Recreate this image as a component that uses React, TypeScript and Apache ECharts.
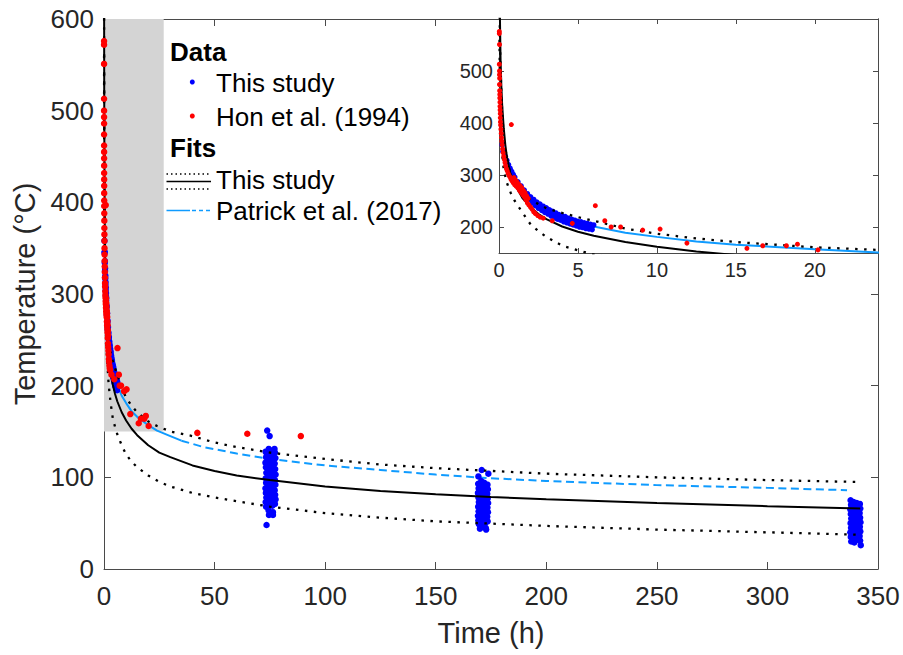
import React, { useEffect, useRef } from "react";
import * as echarts from "echarts";

// ---------- DATA ----------
// "This study" data: early continuous record (t < 6 h)
const thisStudyEarly: number[][] = [
  [0.2, 358], [0.3, 346], [0.4, 336], [0.5, 328], [0.6, 320], [0.7, 313], [0.8, 307], [0.9, 301], [1.0, 296],
  [1.2, 287], [1.4, 279], [1.6, 271], [1.8, 264], [2.0, 258], [2.2, 253], [2.4, 248], [2.6, 244], [2.8, 240],
  [3.0, 237], [3.2, 233], [3.4, 230], [3.6, 227], [3.8, 224], [4.0, 222], [4.2, 220], [4.4, 217], [4.6, 215],
  [4.8, 213], [5.0, 211], [5.2, 210], [5.4, 208], [5.6, 207], [5.8, 205], [6.0, 204],
  [1.9, 256], [2.1, 251], [2.3, 246], [2.5, 242], [2.7, 238], [2.9, 235], [3.1, 231], [3.3, 228], [3.5, 225],
  [3.7, 222], [3.9, 220], [4.1, 217], [4.3, 215], [4.5, 213], [4.7, 211], [4.9, 209], [5.1, 207], [5.3, 206],
  [5.5, 204], [5.7, 203], [5.9, 201],
  [0.25, 345], [0.35, 334], [0.45, 325], [0.55, 317], [0.65, 310], [0.75, 304], [0.85, 298], [0.95, 293],
  [1.1, 285], [1.3, 277], [1.5, 269], [1.7, 261], [1.9, 253], [2.1, 246], [2.3, 241], [2.5, 236], [2.7, 232],
  [2.9, 228], [3.1, 225], [3.3, 221], [3.5, 218], [3.7, 215], [3.9, 213], [4.1, 210], [4.3, 208], [4.5, 206],
  [4.7, 204], [4.9, 202], [5.1, 200], [5.3, 199], [5.5, 197], [5.7, 196], [5.9, 195],
];

// "This study" data: cluster near 75 h
const thisStudy75: number[][] = [
  [73.1, 128], [73.3, 122], [73.0, 116], [73.2, 111], [73.4, 105], [73.1, 99], [73.3, 94], [73.0, 88], [73.2, 83],
  [73.4, 78], [73.1, 73], [73.3, 68],
  [74.5, 131], [74.7, 125], [74.4, 119], [74.6, 113], [74.8, 108], [74.5, 102], [74.7, 96], [74.4, 91], [74.6, 85],
  [74.8, 80], [74.5, 75], [74.7, 70], [74.4, 64],
  [75.9, 129], [76.1, 123], [75.8, 118], [76.0, 112], [76.2, 106], [75.9, 100], [76.1, 95], [75.8, 89], [76.0, 84],
  [76.2, 79], [75.9, 74], [76.1, 69], [76.4, 62],
  [77.3, 127], [77.5, 121], [77.2, 115], [77.4, 109], [77.6, 103], [77.3, 97], [77.5, 92], [77.2, 86], [77.4, 81],
  [77.6, 76], [77.3, 71],
  [73.8, 151], [74.9, 145], [73.5, 48], [74.6, 59], [76.4, 59], [77.1, 131], [73.6, 126],
];

// "This study" data: cluster near 171 h
const thisStudy171: number[][] = [
  [169.2, 93], [169.4, 88], [169.1, 83], [169.3, 78], [169.5, 73], [169.2, 68], [169.4, 63], [169.1, 58], [169.3, 53], [169.5, 49],
  [170.6, 96], [170.8, 91], [170.5, 86], [170.7, 81], [170.9, 76], [170.6, 71], [170.8, 66], [170.5, 61], [170.7, 56], [170.9, 51], [170.6, 46],
  [172.0, 94], [172.2, 89], [171.9, 84], [172.1, 79], [172.3, 74], [172.0, 69], [172.2, 64], [171.9, 59], [172.1, 54], [172.3, 50], [172.6, 45],
  [173.4, 92], [173.6, 87], [173.3, 82], [173.5, 77], [173.7, 72], [173.4, 67], [173.6, 62], [173.3, 57], [173.5, 52],
  [170.8, 108], [169.3, 101], [173.8, 104], [170.0, 44], [172.8, 43],
];

// "This study" data: cluster near 340 h
const thisStudy340: number[][] = [
  [337.6, 75], [337.8, 70], [337.5, 65], [337.7, 60], [337.9, 55], [337.6, 50], [337.8, 45], [337.5, 40], [337.7, 35], [337.9, 30],
  [339.0, 73], [339.2, 68], [338.9, 63], [339.1, 58], [339.3, 53], [339.0, 48], [339.2, 43], [338.9, 38], [339.1, 33], [339.3, 29],
  [340.4, 72], [340.6, 67], [340.3, 62], [340.5, 57], [340.7, 52], [340.4, 47], [340.6, 42], [340.3, 37], [340.5, 32],
  [341.8, 71], [342.0, 66], [341.7, 61], [341.9, 56], [342.1, 51], [341.8, 46], [342.0, 41], [341.7, 36], [341.9, 31], [342.2, 26],
];

// Hon et al. (1994)
const honData: number[][] = [
  [0.02, 576], [0.02, 572], [0.03, 551], [0.02, 513], [0.03, 500], [0.03, 493], [0.04, 486], [0.03, 474],
  [0.04, 462], [0.05, 455], [0.05, 448], [0.06, 440], [0.06, 432], [0.07, 425], [0.08, 418], [0.08, 410],
  [0.09, 402], [0.1, 396], [0.12, 388], [0.14, 380], [0.16, 372], [0.18, 365], [0.2, 358], [0.23, 350],
  [0.26, 343], [0.3, 336], [0.34, 330], [0.38, 324], [0.42, 318], [0.47, 312], [0.52, 308], [0.58, 303],
  [0.64, 299], [0.7, 296], [0.78, 397], [0.76, 292], [0.82, 289], [0.9, 285], [0.95, 295], [1.0, 281],
  [1.05, 290], [1.1, 278], [1.15, 286], [1.2, 275], [1.25, 282], [1.3, 270], [1.35, 279], [1.4, 266],
  [1.45, 275], [1.5, 262], [1.55, 270], [1.6, 258], [1.65, 266], [1.7, 252], [1.75, 260], [1.8, 246],
  [1.85, 255], [1.9, 242], [2.0, 238], [2.1, 234], [2.2, 229], [2.3, 226], [2.45, 222], [2.6, 219],
  [2.8, 217], [3.37, 212], [4.64, 207], [6.1, 241], [6.7, 212], [7.1, 200], [7.7, 200], [9.1, 194],
  [10.2, 196], [11.9, 169], [15.7, 159], [16.7, 164], [18.2, 164], [18.9, 167], [20.2, 156],
  [42.2, 148.5], [64.8, 147.5], [89, 145],
];

// Fits: this study (best fit, upper and lower bounds)
const fitThisStudy: number[][] = [
  [0.03, 690], [0.06, 600], [0.1, 520], [0.15, 470], [0.2, 435], [0.3, 390], [0.4, 358], [0.5, 335], [0.7, 305],
  [1, 282], [1.5, 255], [2, 238], [2.5, 225], [3, 215], [4, 201], [5, 191], [6, 183], [8, 171], [10, 162],
  [12.5, 153], [15, 146], [20, 135], [25, 127], [30, 122], [40, 113], [50, 107], [60, 102], [75, 97], [100, 90],
  [125, 85], [150, 81.5], [175, 78.5], [200, 76], [250, 72], [300, 68.5], [342, 66],
];
const fitUpper: number[][] = [
  [0.03, 640], [0.06, 560], [0.1, 500], [0.2, 420], [0.3, 375], [0.5, 330], [0.7, 305], [1, 285], [1.5, 265],
  [2, 252], [3, 236], [4, 227], [5, 219], [6, 212], [8, 197], [10, 187], [12.5, 178], [15, 171], [20, 161],
  [24, 156], [30, 150], [40, 145], [50, 138], [60, 133], [75, 127], [100, 120], [125, 114], [150, 110],
  [175, 107], [200, 104], [250, 100], [300, 97], [340, 95],
];
const fitLower: number[][] = [
  [0.03, 560], [0.06, 470], [0.1, 410], [0.2, 340], [0.3, 310], [0.5, 285], [0.75, 265], [1, 250], [1.5, 227],
  [2, 205], [2.5, 192], [3, 181], [4, 164], [5, 155], [6, 147], [8, 135], [10, 125], [12.5, 117], [15, 111],
  [20, 102], [25, 95], [30, 90], [40, 83], [50, 78], [60, 74], [75, 68], [100, 61], [125, 56], [150, 52],
  [175, 49.5], [200, 47], [250, 43], [300, 40], [340, 37.5],
];
// Patrick et al. (2017): fitted range (solid) and extrapolation (dashed)
const patrickSolid: number[][] = [
  [0.3, 350], [0.5, 320], [0.75, 298], [1, 283], [1.5, 263], [2, 250], [3, 232], [4, 219], [5, 209], [6, 201],
  [8, 189], [10, 181], [12.5, 172], [15, 166], [20, 157], [24, 151], [30, 145], [35, 140],
];
const patrickDashed: number[][] = [
  [35, 140], [45, 133], [60, 126], [75, 120], [100, 113], [125, 108], [150, 103], [175, 99], [200, 96],
  [250, 91.5], [300, 88.5], [336, 86],
];

// Shaded (inset) region
const shadeTime = [0, 27];
const shadeTemp = [150, 600];

// Tick values
const insetXTicks = [0, 5, 10, 15, 20];
const insetYTicks = [200, 300, 400, 500];

// ---------- STYLE ----------
const FONT = "Liberation Sans, Arial, Helvetica, sans-serif";
const AXIS_COLOR = "#4a4a4a";
const TEXT_COLOR = "#262626";
const BLUE = "#0000ff";
const RED = "#ff0000";
const PATRICK = "#0f9bff";
const DOT: number[] = [2.5, 6.5];
const DASH: number[] = [8, 4.5];

function axisBase(extra: any) {
  return {
    type: "value",
    axisLine: { show: true, onZero: false, lineStyle: { color: AXIS_COLOR, width: 1 } },
    splitLine: { show: false },
    ...extra,
  };
}

function fitSeries(xi: number, yi: number) {
  const common = {
    type: "line",
    xAxisIndex: xi,
    yAxisIndex: yi,
    showSymbol: false,
    symbol: "none",
    silent: true,
    clip: true,
    z: 3,
  };
  return [
    { ...common, z: 1, data: patrickSolid, lineStyle: { color: PATRICK, width: 2 } },
    { ...common, z: 1, data: patrickDashed, lineStyle: { color: PATRICK, width: 2, type: DASH } },
    { ...common, data: fitLower, lineStyle: { color: "#000", width: 2.3, type: DOT, cap: "butt" } },
    { ...common, data: fitUpper, lineStyle: { color: "#000", width: 2.3, type: DOT, cap: "butt" } },
    { ...common, data: fitThisStudy, lineStyle: { color: "#000", width: 2 } },
  ];
}

function buildOption() {
  const blueAll = [...thisStudyEarly, ...thisStudy75, ...thisStudy171, ...thisStudy340];
  const legendX = 166.5;
  const dotStyle = (c: string) => ({ color: c, opacity: 1 });
  return {
    animation: false,
    backgroundColor: "#fff",
    textStyle: { fontFamily: FONT },
    grid: [
      { left: 104, top: 19, right: 25, bottom: 86, containLabel: false },
      { left: 499, top: 19, right: 25, height: 234, show: true, backgroundColor: "#fff", borderWidth: 0, containLabel: false },
    ],
    xAxis: [
      axisBase({
        gridIndex: 0, min: 0, max: 350, interval: 50, position: "bottom",
        axisTick: { show: true, inside: true, length: 7, lineStyle: { color: AXIS_COLOR } },
        axisLabel: { fontSize: 26, color: TEXT_COLOR, margin: 14, fontFamily: FONT },
        name: "Time (h)", nameLocation: "middle", nameGap: 49,
        nameTextStyle: { fontSize: 29, color: TEXT_COLOR, fontFamily: FONT },
      }),
      axisBase({
        gridIndex: 0, min: 0, max: 350, position: "top",
        axisTick: { show: true, inside: true, length: 7, customValues: [50, 100, 150], lineStyle: { color: AXIS_COLOR } },
        axisLabel: { show: false },
      }),
      axisBase({
        gridIndex: 1, min: 0, max: 24, position: "bottom",
        axisTick: { show: true, inside: true, length: 5, customValues: insetXTicks, lineStyle: { color: AXIS_COLOR } },
        axisLabel: { fontSize: 20, color: TEXT_COLOR, margin: 7, customValues: insetXTicks, fontFamily: FONT },
      }),
      axisBase({
        gridIndex: 1, min: 0, max: 24, position: "top",
        axisTick: { show: true, inside: true, length: 5, customValues: [5, 10, 15, 20], lineStyle: { color: AXIS_COLOR } },
        axisLabel: { show: false },
      }),
    ],
    yAxis: [
      axisBase({
        gridIndex: 0, min: 0, max: 600, interval: 100, position: "left",
        axisTick: { show: true, inside: true, length: 7, lineStyle: { color: AXIS_COLOR } },
        axisLabel: { fontSize: 26, color: TEXT_COLOR, margin: 10, fontFamily: FONT },
        name: "Temperature (°C)", nameLocation: "middle", nameGap: 59, nameRotate: 90,
        nameTextStyle: { fontSize: 29, color: TEXT_COLOR, fontFamily: FONT },
      }),
      axisBase({
        gridIndex: 0, min: 0, max: 600, position: "right",
        axisTick: { show: true, inside: true, length: 7, customValues: [100, 200, 300], lineStyle: { color: AXIS_COLOR } },
        axisLabel: { show: false },
      }),
      axisBase({
        gridIndex: 1, min: 150, max: 600, position: "left",
        axisTick: { show: true, inside: true, length: 5, customValues: insetYTicks, lineStyle: { color: AXIS_COLOR } },
        axisLabel: { fontSize: 20, color: TEXT_COLOR, margin: 6, customValues: insetYTicks, fontFamily: FONT },
      }),
      axisBase({
        gridIndex: 1, min: 150, max: 600, position: "right",
        axisTick: { show: true, inside: true, length: 5, customValues: insetYTicks, lineStyle: { color: AXIS_COLOR } },
        axisLabel: { show: false },
      }),
    ],
    series: [
      {
        type: "scatter", xAxisIndex: 0, yAxisIndex: 0, data: blueAll, symbolSize: 6.5,
        itemStyle: dotStyle(BLUE), silent: true, clip: true, z: 2,
        markArea: {
          silent: true,
          itemStyle: { color: "#d4d4d4", opacity: 1 },
          data: [[{ coord: [shadeTime[0], shadeTemp[0]] }, { coord: [shadeTime[1], shadeTemp[1]] }]],
        },
      },
      ...fitSeries(0, 0),
      { type: "scatter", xAxisIndex: 0, yAxisIndex: 0, data: honData, symbolSize: 6.5, itemStyle: dotStyle(RED), silent: true, clip: true, z: 4 },
      { type: "scatter", xAxisIndex: 2, yAxisIndex: 2, data: blueAll, symbolSize: 5.5, itemStyle: dotStyle(BLUE), silent: true, clip: true, z: 2 },
      ...fitSeries(2, 2),
      { type: "scatter", xAxisIndex: 2, yAxisIndex: 2, data: honData, symbolSize: 5, itemStyle: dotStyle(RED), silent: true, clip: true, z: 4 },
    ],
    graphic: [
      { type: "text", x: 170, y: 52, style: { text: "Data", font: `bold 26px ${FONT}`, fill: "#000", textVerticalAlign: "middle" } },
      { type: "circle", shape: { cx: 192.3, cy: 82, r: 2.5 }, style: { fill: BLUE } },
      { type: "text", x: 216, y: 83, style: { text: "This study", font: `26px ${FONT}`, fill: "#000", textVerticalAlign: "middle" } },
      { type: "circle", shape: { cx: 192.3, cy: 116, r: 2.5 }, style: { fill: RED } },
      { type: "text", x: 216, y: 117, style: { text: "Hon et al. (1994)", font: `26px ${FONT}`, fill: "#000", textVerticalAlign: "middle" } },
      { type: "text", x: 170, y: 148, style: { text: "Fits", font: `bold 26px ${FONT}`, fill: "#000", textVerticalAlign: "middle" } },
      { type: "line", shape: { x1: legendX, y1: 174, x2: 211, y2: 174 }, style: { stroke: "#000", lineWidth: 1.5, lineDash: [1.5, 3] } },
      { type: "line", shape: { x1: legendX, y1: 181.5, x2: 211, y2: 181.5 }, style: { stroke: "#000", lineWidth: 1.5 } },
      { type: "line", shape: { x1: legendX, y1: 189, x2: 211, y2: 189 }, style: { stroke: "#000", lineWidth: 1.5, lineDash: [1.5, 3] } },
      { type: "text", x: 216, y: 180, style: { text: "This study", font: `26px ${FONT}`, fill: "#000", textVerticalAlign: "middle" } },
      { type: "line", shape: { x1: legendX, y1: 210.5, x2: 190, y2: 210.5 }, style: { stroke: PATRICK, lineWidth: 1.5 } },
      { type: "line", shape: { x1: 192, y1: 210.5, x2: 211, y2: 210.5 }, style: { stroke: PATRICK, lineWidth: 1.5, lineDash: [4, 3] } },
      { type: "text", x: 216, y: 211, style: { text: "Patrick et al. (2017)", font: `26px ${FONT}`, fill: "#000", textVerticalAlign: "middle" } },
    ],
  };
}

export default function App() {
  const ref = useRef<HTMLDivElement>(null);
  useEffect(() => {
    if (!ref.current) return;
    const chart = echarts.init(ref.current, null, { renderer: "svg" });
    chart.setOption(buildOption() as any);
    return () => chart.dispose();
  }, []);
  return (
    <div
      ref={ref}
      style={{ position: "fixed", left: 0, top: 0, width: 903, height: 655, background: "#fff" }}
    />
  );
}
